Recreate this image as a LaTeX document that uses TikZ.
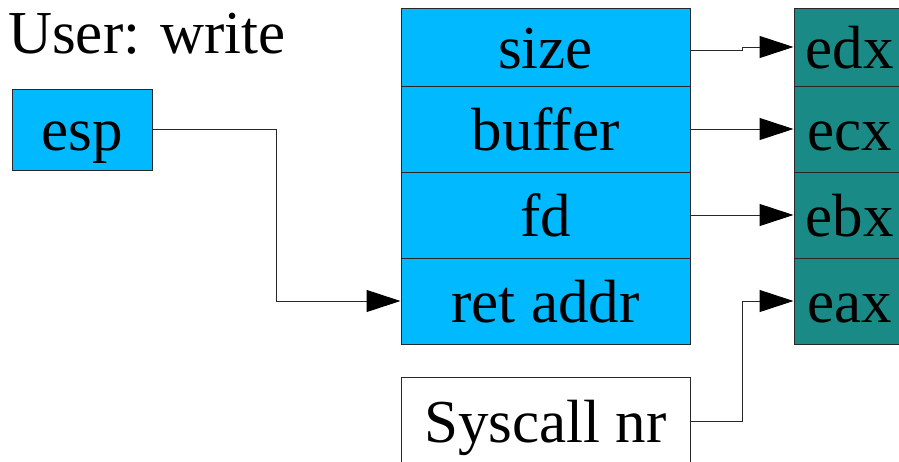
\documentclass[tikz,border=0pt]{standalone}
\usepackage{fontspec}
\newfontfamily\labelface{LiberationSerif-Regular.ttf}
\usetikzlibrary{arrows.meta}
\definecolor{stackblue}{RGB}{0,185,255}
\definecolor{regteal}{RGB}{26,138,135}
\definecolor{edge}{RGB}{40,40,40}
\begin{document}
\begin{tikzpicture}[x=1pt,y=-1pt,
  bigfont/.style={font=\labelface\fontsize{61}{70}\selectfont},
  cell/.style={draw=edge, line width=1pt, inner sep=0pt, bigfont,
    text height=46pt, text depth=4pt},
  stackcell/.style={cell, fill=stackblue, minimum width=289pt},
  regcell/.style={cell, fill=regteal, minimum width=111pt},
  conn/.style={draw=edge, line width=1pt},
  arr/.style={conn, -{Triangle[length=34pt,width=22pt,color=black]}}]
\useasboundingbox (0,0) rectangle (899,461);

% title
\node[bigfont, anchor=base west, inner sep=0pt] (title) at (8,53) {User: write};

% user stack
\node[stackcell, minimum height=78pt] (size)   at (545.5,47)  {size};
\node[stackcell, minimum height=86pt] (buffer) at (545.5,129) {buffer};
\node[stackcell, minimum height=86pt] (fd)     at (545.5,215) {fd};
\node[stackcell, minimum height=86pt] (ret)    at (545.5,301) {ret addr};

% syscall number
\node[cell, fill=white, minimum width=289pt, minimum height=89pt] (sys) at (545.5,421.5) {Syscall nr};

% stack pointer
\node[cell, fill=stackblue, minimum width=140pt, minimum height=81pt] (esp) at (82,129.5) {esp};

% registers
\node[regcell, minimum height=78pt] (edx) at (849.5,47)  {edx};
\node[regcell, minimum height=86pt] (ecx) at (849.5,129) {ecx};
\node[regcell, minimum height=86pt] (ebx) at (849.5,215) {ebx};
\node[regcell, minimum height=86pt] (eax) at (849.5,301) {eax};

% connectors
\draw[arr] ([yshift=-3pt]size.east) -- ++(52,0) |- (edx.west);
\draw[arr] (buffer.east) -- (ecx.west);
\draw[arr] (fd.east) -- (ebx.west);
\draw[arr] (sys.east) -- ++(52,0) |- (eax.west);
\draw[arr] (esp.east) -- ++(124,0) |- (ret.west);
\end{tikzpicture}
\end{document}
